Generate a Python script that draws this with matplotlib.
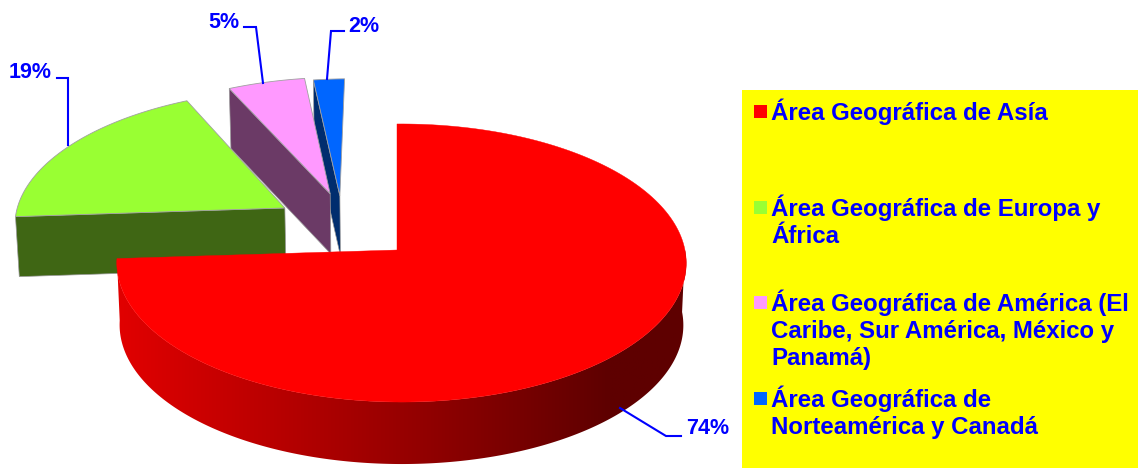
import numpy as np
import matplotlib
matplotlib.use("Agg")
import matplotlib.pyplot as plt
from matplotlib.colors import LinearSegmentedColormap
from matplotlib.patches import Polygon, Rectangle

plt.rcParams['font.family'] = ['Liberation Sans', 'DejaVu Sans']

# chart data
values = [74, 19, 5, 2]
labels = ["Área Geográfica de Asía",
          "Área Geográfica de Europa y\nÁfrica",
          "Área Geográfica de América (El\nCaribe, Sur América, México y\nPanamá)",
          "Área Geográfica de\nNorteamérica y Canadá"]

# slice styles
top_colors = ["#FF0000", "#99FF33", "#FF99FF", "#0066FF"]
side_colors = ["#A00000", "#3F6614", "#6B3A66", "#002D6E"]
explode = [(0.0, 0.0), (-0.41, 0.316), (-0.246, 0.425), (-0.21, 0.41)]

# projection of the pie plane on to the picture (pixels)
apex_x, apex_y = 397, 250
rad_x, rad_y = 283.4, 137.8
persp_u, persp_v = -0.0158, 0.0935
depth = 60
red_depth = 62
BLUE = "#0000FF"


def project(u, v):
    w = 1 + persp_v * v + persp_u * u
    return apex_x + rad_x * u / w, apex_y - rad_y * v / w


def drop(x, y, d=depth):
    # same points on the lower face of the pie
    return apex_x + (x - apex_x) * 0.99, y + d


def slice_top(start, end, shift):
    ang = np.radians(np.linspace(start, end, 200))
    u = np.r_[0, np.cos(ang)] + shift[0]
    v = np.r_[0, np.sin(ang)] + shift[1]
    return project(u, v)


def arc(start, end):
    ang = np.radians(np.linspace(start, end, 300))
    return project(np.cos(ang), np.sin(ang))


fig = plt.figure(figsize=(11.38, 4.68), dpi=100)
ax = fig.add_axes([0, 0, 1, 1])

# angles go clockwise from twelve o'clock
bounds = 90 - np.r_[0, np.cumsum(values)] * 3.6
order = [3, 2, 1, 0]   # red one sits in front of the others

for i in order:
    start, end = bounds[i], bounds[i + 1]
    x, y = slice_top(start, end, explode[i])

    if i == 0:
        # round front wall of the big slice, shaded left to right
        ax_, ay_ = arc(0, end)
        bx, by = drop(ax_, ay_, red_depth)
        wall = Polygon(np.c_[np.r_[ax_, bx[::-1]], np.r_[ay_, by[::-1]]],
                       closed=True, fc="none", ec="none")
        ax.add_patch(wall)
        cmap = LinearSegmentedColormap.from_list(
            "wall", [(0, "#E20000"), (0.55, "#900000"), (0.86, "#5E0000"), (1, "#5E0000")])
        img = ax.imshow(np.linspace(0, 1, 256)[None, :], cmap=cmap, aspect="auto",
                        extent=(115, 690, 470, 250), zorder=2)
        img.set_clip_path(wall)
    else:
        # flat cut face, seen from the front
        fx = np.r_[x[1], x[0]]
        fy = np.r_[y[1], y[0]]
        bx, by = drop(fx, fy)
        face = Polygon(np.c_[np.r_[fx, bx[::-1]], np.r_[fy, by[::-1]]], closed=True,
                       fc=side_colors[i], ec="#999999", lw=0.5, zorder=2)
        ax.add_patch(face)

    ax.add_patch(Polygon(np.c_[x, y], closed=True, fc=top_colors[i],
                         ec="#FF0000" if i == 0 else "#A0A0A0",
                         lw=0.3 if i == 0 else 0.6, zorder=3))

# leader lines and percent labels
leaders = [[(620, 408), (666, 436), (681, 436)],
           [(68, 145), (68, 78), (57, 78)],
           [(263, 83), (256, 27), (244, 27)],
           [(327, 79), (331, 31), (344, 31)]]
label_pos = [(686, 429), (9, 72), (208, 22), (348, 27)]
for i in range(len(values)):
    pts = np.array(leaders[i])
    ax.plot(pts[:, 0], pts[:, 1], color=BLUE, lw=1.5, zorder=4, solid_joinstyle="miter")
    ax.text(label_pos[i][0], label_pos[i][1], f"{values[i]}%", color=BLUE, fontsize=15.5,
            fontweight="bold", va="center", ha="left", zorder=5)

# legend, yellow box on the right
ax.add_patch(Rectangle((742, 90), 396, 378, fc="#FFFF00", ec="none", zorder=1))
key_y = [105, 201, 296, 392]
for i in range(len(labels)):
    ax.add_patch(Rectangle((754, key_y[i]), 13, 13, fc=top_colors[i], ec="none", zorder=4))
    ax.text(771.5, key_y[i] - 6.5, labels[i], color=BLUE, fontsize=17.3, fontweight="bold",
            va="top", ha="left", linespacing=1.21, zorder=5)

ax.set_xlim(0, 1138)
ax.set_ylim(468, 0)
ax.axis("off")
fig.savefig("out.png", dpi=100, facecolor="white")
